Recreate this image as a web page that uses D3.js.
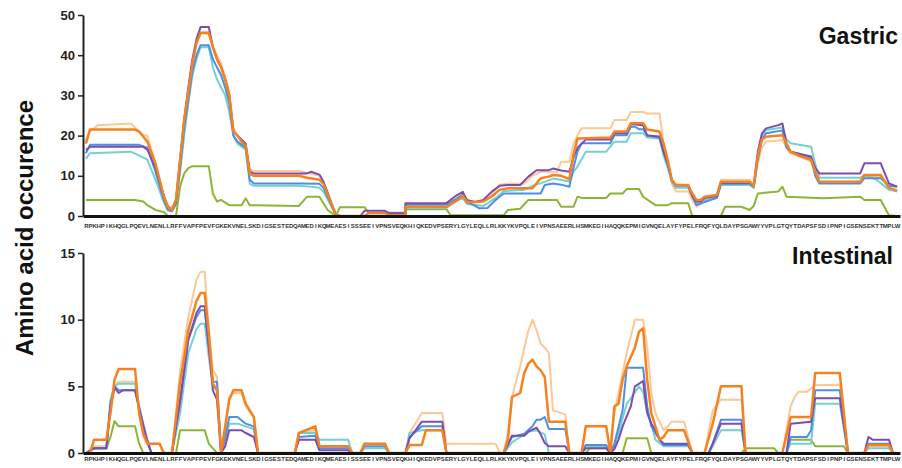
<!DOCTYPE html>
<html>
<head>
<meta charset="utf-8">
<script src="https://cdn.jsdelivr.net/npm/d3@7"></script>
<style>
  body { margin: 0; background: #fff; }
  svg { display: block; font-family: "Liberation Sans", Arial, sans-serif; }
</style>
</head>
<body>
<div id="chart"></div>
<script>
// alpha-s1-casein sequence, one residue per x tick
const sequence = 'RPKHPIKHQGLPQEVLNENLLRFFVAPFPEVFGKEKVNELSKDIGSESTEDQAMEDIKQMEAESISSSEEIVPNSVEQKHIQKEDVPSERYLGYLEQLLRLKKYKVPQLEIVPNSAEERLHSMKEGIHAQQKEPMIGVNQELAYFYPELFRQFYQLDAYPSGAWYYVPLGTQYTDAPSFSDIPNPIGSENSEKTTMPLW'.split('');

const gastricTicks = [0, 10, 20, 30, 40, 50];
const intestinalTicks = [0, 5, 10, 15];

// series vertices: [residue index, occurrence]
const gastricOrange = [[0,18],[1,21.5],[12,21.5],[13,21],[15,18.5],[17,13],[19,5],[20,2.3],[21,1.5],[22,4],[23,14],[24,24],[25,31],[26,38],[27,43],[28,45.5],[30,45.5],[31,42],[32,39],[33,37],[34,34],[35,30],[36,21],[37,20],[38,18.5],[39,17.5],[40,10.5],[41,10],[52,10],[54,9.5],[57,9],[58,8],[61,0.3],[62,0],[68,0],[69,0.7],[73,0.7],[74,0.2],[78,0.2],[78,2.3],[88,2.3],[90,3.5],[92,5],[93,3.5],[95,3.5],[97,3.6],[99,4.8],[101,6.5],[103,6.9],[109,6.9],[111,9.4],[113,9.8],[114,10.2],[116,10],[118,9.2],[119,15.2],[120,19.3],[128,19.5],[129,21],[132,21],[133,23.1],[136,23.1],[137,21.5],[140,21],[141,18],[142,14],[143,9],[144,7.7],[147,7.7],[148,5.6],[149,4],[150,4],[151,4.8],[154,5.2],[155,8.5],[162,8.5],[163,7.5],[164,15],[165,19],[166,19.7],[170,20.1],[171,18],[172,16],[174,15],[177,14],[178,11],[179,8.5],[189,8.5],[190,10.2],[194,10.2],[196,7],[198,6.3]];
const gastricPeach = [[0,18.9],[1,21],[3,22.6],[11,23],[13,21],[14,20.1],[15,20],[17,13],[19,5],[20,2.5],[21,2],[22,4],[23,14],[24,24],[25,31],[26,38],[27,43],[28,45.8],[30,45.8],[31,42],[33,38],[35,31],[36,22],[37,20],[39,18],[40,11.5],[41,11.2],[52,11.2],[57,10],[58,8.5],[61,0.5],[62,0],[78,0],[78,2.3],[88,2.3],[90,3.5],[92,5],[93,3.5],[95,3.5],[97,3.6],[99,5.5],[101,7.8],[103,8],[107,8],[109,10],[111,11],[115,11],[116,13.5],[118,13.5],[119,18],[120,20.1],[121,21.8],[128,21.8],[129,23.9],[132,23.9],[133,25.9],[136,25.9],[137,25.5],[140,25.5],[141,18],[142,13],[143,8],[144,6.1],[147,6.1],[148,4],[149,2.3],[151,3.5],[154,5],[155,9],[162,9],[163,7.5],[164,13],[165,17],[166,18.5],[170,18.9],[171,17],[172,15.5],[174,15],[177,13.5],[178,10.5],[179,8.5],[189,8.5],[190,9.8],[194,9.8],[196,7],[198,6.1]];
const gastricBlue = [[0,15.6],[1,17.7],[13,17.7],[15,17],[17,11],[19,4],[20,1.5],[21,1.2],[22,3],[23,12],[24,22],[25,29],[26,36],[27,40],[28,42.5],[30,42.5],[31,39],[33,35],[34,32],[35,28],[36,20],[37,18.5],[39,17],[40,9],[41,8.1],[52,8.1],[57,8],[58,7],[61,0.3],[62,0],[78,0],[78,2.8],[88,2.8],[90,4],[92,5.3],[93,3.5],[95,2.5],[96,1.9],[98,2],[100,4],[102,5.6],[111,5.6],[112,7.7],[114,8.1],[116,7.8],[118,7.3],[119,12],[120,16],[121,18.1],[128,18.1],[129,20.1],[132,20.1],[133,22.2],[134,22.2],[135,21.6],[136,21.6],[137,20.1],[140,19.5],[141,16],[142,13],[143,9],[144,7.5],[147,7.5],[148,5],[149,2.7],[151,3.5],[154,4.5],[155,8],[162,8],[163,7.3],[164,14],[165,19],[166,20.6],[170,21.3],[171,17],[172,16],[174,15.5],[177,14.5],[178,10],[179,8.1],[189,8.1],[190,9.4],[194,9.4],[196,7.5],[198,7.3]];
const gastricCyan = [[0,14.3],[1,15.6],[11,16],[13,15],[15,14],[17,9],[19,3.5],[20,1.5],[21,1.2],[22,3],[23,11],[24,20],[25,28],[26,35],[27,39],[28,42],[30,42],[31,37],[32,34],[34,30],[35,26],[36,20],[37,18],[39,16.5],[40,8],[41,7.5],[52,7.5],[55,7.3],[57,7],[58,6],[61,0.3],[62,0],[78,0],[78,2],[88,2],[90,3.5],[92,4.5],[93,3],[95,2.8],[97,2.5],[100,4.5],[102,6.2],[107,6.5],[109,7.5],[112,8.5],[114,9.3],[116,9],[118,8.5],[119,11],[120,12.3],[122,16],[127,16],[129,18.5],[132,18.5],[133,20.6],[136,20.6],[137,19.5],[140,19.3],[141,15],[142,12],[143,8.5],[144,7],[147,7],[148,5],[149,3],[151,4],[154,4.5],[155,7.7],[162,7.7],[163,7],[164,15],[165,20],[166,21.4],[170,22],[171,19],[172,18.1],[177,17.2],[178,13],[179,9.5],[189,9.5],[190,10.2],[193,9],[196,6.5],[198,6.1]];
const gastricPurple = [[0,16.4],[1,17.2],[14,17.2],[15,16.5],[17,12],[19,5],[20,2.3],[21,1.5],[22,4],[23,14],[24,24],[25,32],[26,39],[27,44],[28,47],[30,47],[31,42],[32,39],[33,37],[34,34],[35,30],[36,21],[37,20],[38,19],[39,18],[40,11],[41,10.6],[54,10.6],[55,11],[57,10.3],[58,8.5],[61,0.3],[62,0],[67,0],[68,1.3],[73,1.3],[74,0.7],[78,0.7],[78,3.2],[88,3.2],[90,4.8],[92,6],[93,4],[95,3.5],[97,4],[99,6],[101,7.5],[103,7.7],[106,7.7],[108,9.8],[110,11.4],[113,11.4],[114,11.8],[116,11.3],[118,11],[119,14.5],[120,17],[122,19],[128,19],[129,20.6],[132,20.6],[133,22.9],[136,22.6],[137,20],[140,19.8],[141,16],[142,13],[143,9],[144,7.7],[147,7.7],[148,5],[149,3.6],[150,3.6],[151,4.5],[154,5],[155,8.3],[162,8.3],[163,7.5],[164,16],[165,20.5],[166,21.8],[169,22.6],[170,23],[171,18],[172,16],[174,15.5],[177,14.8],[178,12],[179,10.6],[189,10.6],[190,13.1],[194,13.1],[196,8.1],[198,7.3]];
const gastricGreen = [[0,4],[12,4],[14,3.6],[15,2.7],[17,1.5],[19,1],[20,0],[22,0],[23,7.3],[24,10.6],[25,11.9],[26,12.4],[30,12.4],[31,5.6],[32,3.6],[33,4],[35,2.7],[38,2.7],[39,4.4],[40,2.7],[52,2.5],[54,4.8],[57,4.8],[59,1.5],[61,0],[62,2.2],[68,2.2],[69,0.8],[78,0.8],[78,1.7],[88,1.7],[89,0.2],[102,0.2],[103,1.5],[106,1.8],[108,4],[115,4],[116,2.3],[119,2.3],[120,4.8],[121,4.5],[127,4.5],[128,5.6],[131,5.6],[132,6.7],[135,6.7],[136,4.8],[139,2.7],[142,2.7],[143,3.2],[147,3.2],[148,0],[155,0],[156,2.3],[160,2.3],[162,1.5],[163,2.5],[164,5.6],[169,6.1],[170,7.3],[171,4.8],[180,4.4],[189,4.8],[190,4],[194,4],[196,0.2],[198,0]];

const intestinalOrange = [[0,0],[1,0],[2,1],[5,1],[6,3],[7,5.5],[8,6.3],[12,6.3],[13,3],[14,1.5],[15,0.7],[18,0.7],[19,0],[21,0],[23,5.3],[24,7.2],[25,9.2],[27,11.4],[28,12],[29,12],[30,9],[31,5.2],[32,4.7],[33,0],[34,2],[35,4],[36,4.7],[38,4.7],[39,3.7],[40,3.2],[41,2.7],[42,0],[51,0],[52,1.5],[56,2],[57,0.5],[64,0.5],[65,0],[67,0],[68,0.7],[73,0.7],[74,0],[78,0],[79,0.6],[82,0.6],[83,1.7],[87,1.7],[88,0],[102,0],[103,1],[104,4.2],[106,4.5],[107,6],[108,6.7],[109,7],[110,6.5],[111,6.2],[112,5.7],[113,2.35],[117,2.35],[118,0],[121,0],[122,2],[127,2],[128,0],[129,3.5],[130,3.7],[131,5.5],[132,6.5],[134,7.9],[135,9.1],[136,9.35],[137,5.5],[138,3],[140,1],[141,1.2],[142,1.7],[146,1.7],[148,0],[151,0],[153,2.2],[155,5],[160,5],[161,0],[170,0],[172,2.7],[177,2.7],[178,6],[184,6],[186,0],[190,0],[191,0.6],[196,0.6],[197,0],[198,0]];
const intestinalPeach = [[0,0],[2,0.5],[5,0.5],[6,3],[7,5],[8,5.35],[12,5.35],[13,3],[14,1.2],[15,0.7],[18,0.7],[19,0],[21,0],[22,3],[23,6.2],[25,10.2],[27,13],[28,13.6],[29,13.6],[30,9.2],[31,6.2],[32,5.7],[33,0],[34,2],[35,4.2],[36,4.5],[38,4.5],[39,3.5],[41,2.7],[42,0],[51,0],[52,1.5],[56,1.7],[57,0.5],[64,0.5],[65,0],[67,0],[68,0.7],[73,0.7],[74,0],[78,0],[79,1.5],[82,3],[87,3],[88,0.7],[100,0.7],[101,0],[102,0],[103,1.5],[104,4.2],[106,6.5],[108,9.2],[109,10],[110,9.2],[111,8.2],[112,7.9],[113,7.5],[114,3.2],[117,2.9],[118,0],[121,0],[122,2],[127,2],[128,0],[129,3],[130,4.5],[131,6],[132,7.5],[134,10],[136,10],[137,8],[138,4.5],[139,3],[141,1.7],[142,2],[143,2.35],[146,2.35],[148,0],[151,0],[153,3.2],[155,4],[160,4],[161,0],[170,0],[172,3.5],[173,4.2],[174,4.6],[176,4.6],[178,5.1],[184,5.1],[186,0],[190,0],[191,0.5],[196,0.5],[197,0],[198,0]];
const intestinalBlue = [[0,0],[2,0.35],[5,0.35],[6,3.7],[7,5],[8,4.7],[12,4.7],[13,3.5],[14,2.2],[15,1],[16,0],[21,0],[22,2],[23,3.7],[25,8.5],[27,10.2],[28,10.7],[29,10.7],[30,8],[31,5.35],[32,5.35],[33,0],[34,1.2],[35,2.7],[37,2.7],[39,2.2],[41,2],[42,0],[51,0],[52,1.2],[56,1.3],[57,0.35],[64,0.35],[65,0],[67,0],[68,0.5],[73,0.5],[74,0],[78,0],[79,1.2],[82,2],[87,2],[88,0],[102,0],[104,1.2],[107,1.45],[109,2],[110,2.5],[111,2.5],[112,2.7],[113,1.8],[117,1.8],[118,0],[121,0],[122,0.6],[127,0.6],[128,0],[129,0.7],[131,3.2],[132,6.4],[136,6.4],[137,3.5],[138,2],[140,1],[141,0.6],[147,0.6],[148,0],[152,0],[153,0.7],[155,2.5],[160,2.5],[161,0],[171,0],[172,1.2],[176,1.2],[177,1.7],[178,4.7],[184,4.7],[186,0],[190,0],[191,0.7],[196,0.7],[197,0],[198,0]];
const intestinalCyan = [[0,0],[2,0.35],[5,0.35],[6,4],[7,5],[8,5.2],[12,5.2],[13,3.3],[14,2],[15,0.8],[16,0],[21,0],[22,1.5],[23,3],[25,7.5],[27,9.3],[28,9.7],[29,9.7],[30,7.2],[31,5],[32,4.7],[33,0],[34,1],[35,2.2],[37,2.2],[39,2],[41,1.8],[42,0],[51,0],[52,1.5],[56,1.5],[57,1],[64,1],[65,0],[67,0],[68,0.35],[73,0.35],[74,0],[78,0],[79,1.5],[82,1.7],[87,1.7],[88,0],[102,0],[104,0.8],[106,1.2],[108,1.6],[110,1.7],[112,1.4],[113,0],[121,0],[122,0.5],[127,0.5],[128,0],[129,0.5],[130,1.5],[132,3.7],[133,4.1],[135,5],[136,4.6],[137,3],[138,2.2],[139,1],[141,0.5],[147,0.5],[148,0],[152,0],[153,0.5],[155,1.7],[160,1.7],[161,0],[171,0],[172,0.7],[177,0.7],[178,3.7],[184,3.7],[186,0],[190,0],[191,0.35],[196,0.35],[197,0],[198,0]];
const intestinalPurple = [[0,0],[2,0.35],[5,0.35],[6,3.5],[7,4.9],[8,4.5],[9,4.7],[12,4.7],[13,3.3],[14,2],[15,0.8],[16,0],[21,0],[22,2],[23,4],[25,8.5],[27,10.5],[28,11],[29,11],[30,8],[31,4.7],[32,4],[33,0],[34,0.5],[35,1.7],[38,1.7],[39,1.5],[41,1.2],[42,0],[51,0],[52,1],[56,1],[57,0.2],[64,0.2],[65,0],[78,0],[79,1.1],[82,2.35],[87,2.35],[88,0],[102,0],[104,1.3],[107,1.3],[108,1.6],[110,1.9],[111,1.4],[112,0.75],[113,0.5],[117,0.5],[118,0],[121,0],[122,0.35],[127,0.35],[128,0],[129,0.3],[130,1],[131,2],[133,3.5],[134,5],[136,5.4],[137,3],[138,2.2],[139,1.7],[140,1],[141,0.7],[147,0.7],[148,0],[152,0],[153,0.7],[155,2.2],[160,2.2],[161,0],[171,0],[172,2.2],[177,2.35],[178,4.1],[184,4.1],[186,0],[190,0],[191,1.2],[192,1],[196,1],[197,0],[198,0]];
const intestinalGreen = [[0,0],[2,0.35],[5,0.35],[6,1.2],[7,2.4],[8,2],[12,2],[13,0.7],[14,0],[22,0],[23,1.7],[29,1.7],[30,0.7],[31,0.35],[32,0],[122,0],[123,0.35],[127,0.35],[128,0],[131,0],[132,1.1],[137,1.1],[138,0],[160,0],[161,0.35],[168,0.35],[169,0],[171,0],[172,1],[177,1],[178,0.5],[185,0.5],[186,0],[198,0]];

const colors = {
  green: '#8cb536',
  peach: '#fcc896',
  cyan: '#72d0d6',
  blue: '#4d8fe3',
  purple: '#7e4cb0',
  orange: '#f5821f'
};

const width = 902, height = 468;
const svg = d3.select('#chart').append('svg')
  .attr('width', width)
  .attr('height', height);

const x = d3.scalePoint()
  .domain(d3.range(sequence.length))
  .range([83, 900])
  .padding(0.7);

const panels = [
  {
    title: 'Gastric', titleX: 898, titleY: 44,
    y: d3.scaleLinear().domain([0, 50]).range([216, 15]),
    ticks: gastricTicks, labelPad: 8,
    series: [
      [gastricGreen, colors.green, 2],
      [gastricPeach, colors.peach, 2],
      [gastricCyan, colors.cyan, 2],
      [gastricBlue, colors.blue, 2],
      [gastricPurple, colors.purple, 2],
      [gastricOrange, colors.orange, 2.5]
    ]
  },
  {
    title: 'Intestinal', titleX: 893, titleY: 264,
    y: d3.scaleLinear().domain([0, 15]).range([453, 253]),
    ticks: intestinalTicks, labelPad: 4,
    series: [
      [intestinalGreen, colors.green, 2],
      [intestinalPeach, colors.peach, 2],
      [intestinalCyan, colors.cyan, 2],
      [intestinalBlue, colors.blue, 2],
      [intestinalPurple, colors.purple, 2],
      [intestinalOrange, colors.orange, 2.5]
    ]
  }
];

panels.forEach(p => {
  const g = svg.append('g');
  const y = p.y;

  const line = d3.line()
    .x(d => x(d[0]))
    .y(d => y(d[1]));

  g.append('g').selectAll('path')
    .data(p.series)
    .join('path')
    .attr('fill', 'none')
    .attr('stroke', d => d[1])
    .attr('stroke-width', d => d[2])
    .attr('stroke-linejoin', 'round')
    .attr('d', d => line(d[0]));

  // x axis: one residue letter per tick
  const xAxis = g.append('g')
    .attr('transform', `translate(0,${y(0)})`)
    .call(d3.axisBottom(x)
      .tickSize(0)
      .tickSizeOuter(0)
      .tickPadding(p.labelPad)
      .tickFormat(i => sequence[i]));
  xAxis.select('.domain').attr('stroke', '#111').attr('stroke-width', 3);
  xAxis.selectAll('text')
    .attr('font-size', 6)
    .attr('font-weight', 'bold')
    .attr('fill', '#333')
    .attr('font-family', '"Liberation Sans", Arial, sans-serif');

  const yAxis = g.append('g')
    .attr('transform', 'translate(83,0)')
    .call(d3.axisLeft(y)
      .tickValues(p.ticks)
      .tickSize(5)
      .tickSizeOuter(0)
      .tickPadding(3));
  yAxis.select('.domain').attr('stroke', '#222').attr('stroke-width', 2);
  yAxis.selectAll('.tick line').attr('stroke', '#222').attr('stroke-width', 1.5);
  yAxis.selectAll('text')
    .attr('font-size', 13)
    .attr('font-weight', 'bold')
    .attr('fill', '#222')
    .attr('font-family', '"Liberation Sans", Arial, sans-serif');

  g.append('text')
    .attr('x', p.titleX)
    .attr('y', p.titleY)
    .attr('text-anchor', 'end')
    .attr('font-size', 23)
    .attr('font-weight', 'bold')
    .attr('fill', '#111')
    .text(p.title);
});

svg.append('text')
  .attr('transform', 'translate(33,228) rotate(-90)')
  .attr('text-anchor', 'middle')
  .attr('font-size', 24)
  .attr('font-weight', 'bold')
  .attr('fill', '#111')
  .text('Amino acid occurence');
</script>
</body>
</html>
